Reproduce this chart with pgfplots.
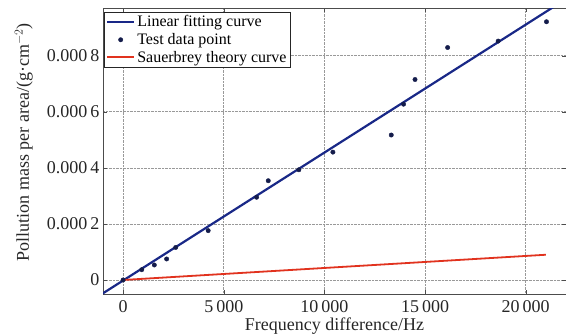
\documentclass[border=0pt]{standalone}
\usepackage{pgfplots}
\pgfplotsset{compat=1.18}
\usepackage{fontspec}
\setmainfont{Liberation Serif}
\definecolor{fitblue}{RGB}{25,40,135}
\definecolor{ptblue}{RGB}{20,28,75}
\definecolor{sred}{RGB}{225,50,30}
\begin{document}
\begin{tikzpicture}
\useasboundingbox (0,0) rectangle (566pt,335pt);
\begin{axis}[
  at={(103pt,41pt)}, anchor=south west,
  width=463pt, height=286pt, scale only axis,
  xmin=-1000, xmax=22000,
  ymin=-0.00005, ymax=0.00097,
  xtick={0,5000,10000,15000,20000},
  xticklabels={0, 5\,000, 10\,000, 15\,000, 20\,000},
  ytick={0,0.0002,0.0004,0.0006,0.0008},
  yticklabels={0, 0.000\,2, 0.000\,4, 0.000\,6, 0.000\,8},
  scaled ticks=false,
  tick label style={font=\fontsize{18}{20}\selectfont, text=black!85},
  xticklabel style={inner sep=0pt, yshift=-6pt},
  label style={font=\fontsize{18}{20}\selectfont, text=black!85},
  xlabel={Frequency difference/Hz},
  ylabel={Pollution mass per area/(g·cm$^{-2}$)},
  xlabel style={at={(axis description cs:0.5,-0.126)}, anchor=base, inner sep=0pt},
  ylabel style={at={(axis description cs:-0.171,0.531)}, anchor=center},
  grid=major,
  major grid style={densely dotted, gray!80, line width=0.6pt},
  axis line style={black!70, line width=0.8pt},
  tick align=inside, major tick length=4pt,
  tick style={black!70},
  xtick pos=both, ytick pos=both,
  clip=true,
  legend style={at={(axis description cs:0.003,0.986)}, anchor=north west,
    draw=black!85, fill=white,
    font=\fontsize{16}{18}\selectfont,
    inner sep=1.5pt, row sep=1pt,
    cells={anchor=west}},
  legend image code/.code={\draw[#1] (0pt,0pt) -- (27pt,0pt);},
]
\addplot[fitblue, line width=2.2pt] coordinates {(-1200,-0.0000566) (22000,0.001002)};
\addlegendentry{Linear fitting curve}
\addplot[only marks, mark=*, mark size=2.2pt, ptblue,
  legend image code/.code={\fill[ptblue] (13.5pt,0pt) circle (2.2pt);}] coordinates {
(0,0.0000)
(925,0.0000367)
(1550,0.0000535)
(2160,0.0000749)
(2610,0.000116)
(4225,0.000176)
(6630,0.000295)
(7210,0.000354)
(8730,0.000393)
(10420,0.000456)
(13320,0.000517)
(13930,0.000627)
(14500,0.000715)
(16120,0.000829)
(18630,0.000852)
(21030,0.000921)
};
\addlegendentry{Test data point}
\addplot[sred, line width=1.8pt] coordinates {(0,0) (21000,0.00009)};
\addlegendentry{Sauerbrey theory curve}
\end{axis}
\end{tikzpicture}
\end{document}
